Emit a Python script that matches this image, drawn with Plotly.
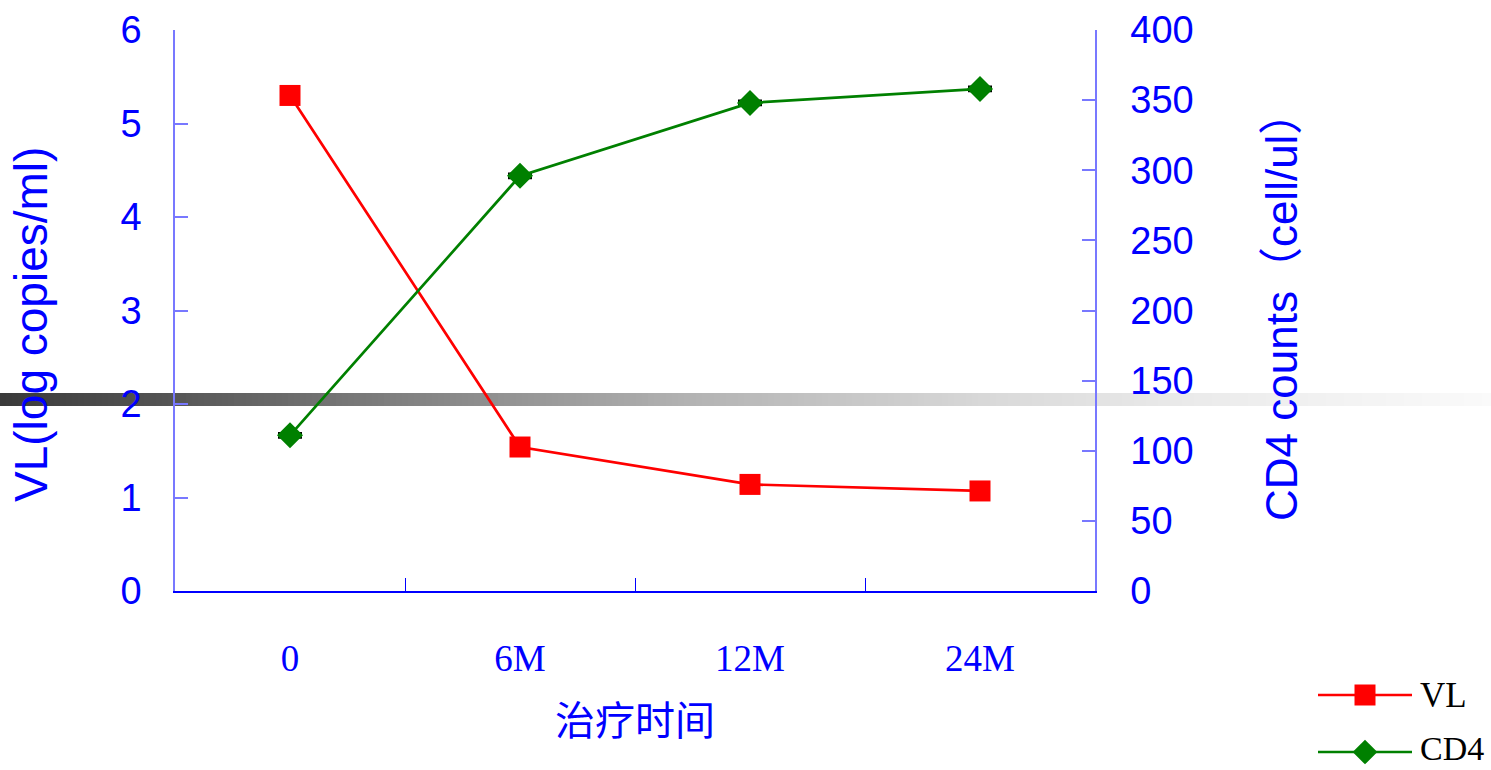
import plotly.graph_objects as go

# Treatment time points and measurements
months = ["0", "6M", "12M", "24M"]
vl_log = [5.30, 1.54, 1.14, 1.07]          # viral load, log copies/ml
cd4_counts = [111, 296, 348, 358]          # CD4 counts, cell/ul
cd4_err = [1.5, 1.5, 1.5, 1.5]

W, H = 1491, 770
BLUE = "#0000ff"
AXIS_BLUE = "#7878ff"
RED = "#ff0000"
GREEN = "#008000"


def px_x(p):
    return p / W


def px_y(p):
    return 1 - p / H


fig = go.Figure()

fig.add_trace(go.Scatter(
    x=months, y=vl_log, name="VL", mode="lines+markers",
    line=dict(color=RED, width=2.7),
    marker=dict(symbol="square", size=21, color=RED),
    xaxis="x", yaxis="y", showlegend=False,
))

fig.add_trace(go.Scatter(
    x=months, y=cd4_counts, name="CD4", mode="lines+markers",
    line=dict(color=GREEN, width=2.7),
    marker=dict(symbol="diamond", size=20, color=GREEN),
    error_y=dict(type="data", array=cd4_err, color="black", thickness=2.5, width=12),
    xaxis="x", yaxis="y2", showlegend=False,
))

# Legend drawn on a small auxiliary axis pair in the lower right corner
legend_items = [("VL", RED, "square", 21, 75), ("CD4", GREEN, "diamond", 19, 18)]
for label, col, sym, size, ypos in legend_items:
    fig.add_trace(go.Scatter(
        x=[0, 1], y=[ypos, ypos], mode="lines",
        line=dict(color=col, width=2.7),
        xaxis="x3", yaxis="y3", showlegend=False, hoverinfo="skip",
    ))
    fig.add_trace(go.Scatter(
        x=[0.5], y=[ypos], mode="markers",
        marker=dict(symbol=sym, size=size, color=col),
        xaxis="x3", yaxis="y3", showlegend=False, hoverinfo="skip",
    ))

# Horizontal shaded band, dark on the left fading to white on the right
stops = [(0, 58), (170, 85), (400, 128), (700, 180), (1000, 218), (1200, 235), (1491, 250)]


def gray_at(xp):
    for (x0, g0), (x1, g1) in zip(stops[:-1], stops[1:]):
        if x0 <= xp <= x1:
            return g0 + (g1 - g0) * (xp - x0) / (x1 - x0)
    return stops[-1][1]


shapes = []
step = 6
for xs in range(0, W, step):
    g = int(round(gray_at(xs + step / 2)))
    shapes.append(dict(
        type="rect", xref="paper", yref="paper", layer="below",
        x0=px_x(xs), x1=px_x(xs + step + 0.5), y0=px_y(406), y1=px_y(393),
        fillcolor=f"rgb({g},{g},{g})", line=dict(width=0),
    ))

annotations = [
    dict(text="VL(log copies/ml)", x=px_x(31), y=px_y(325), xref="paper", yref="paper",
         textangle=-90, showarrow=False, xanchor="center", yanchor="middle",
         font=dict(family="Liberation Sans, Noto Sans CJK SC", size=46, color=BLUE)),
    dict(text="CD4 counts（cell/ul）", x=px_x(1281), y=px_y(306), xref="paper", yref="paper",
         textangle=-90, showarrow=False, xanchor="center", yanchor="middle",
         font=dict(family="Liberation Sans, Noto Sans CJK SC", size=44, color=BLUE)),
    dict(text="治疗时间", x=px_x(635), y=px_y(718), xref="paper", yref="paper",
         showarrow=False, xanchor="center", yanchor="middle",
         font=dict(family="Noto Sans CJK SC", size=40, color=BLUE)),
    dict(text="VL", x=px_x(1418), y=px_y(695), xref="paper", yref="paper",
         showarrow=False, xanchor="left", yanchor="middle",
         font=dict(family="Liberation Serif", size=35, color="black")),
    dict(text="CD4", x=px_x(1418), y=px_y(769), xref="paper", yref="paper",
         showarrow=False, xanchor="left", yanchor="bottom",
         font=dict(family="Liberation Serif", size=34, color="black")),
]

xdom = [px_x(175), px_x(1095)]
ydom = [px_y(591), px_y(30)]

fig.update_layout(
    template="none",
    width=W, height=H,
    margin=dict(l=0, r=0, t=0, b=0, autoexpand=False),
    paper_bgcolor="white", plot_bgcolor="rgba(0,0,0,0)",
    showlegend=False,
    shapes=shapes,
    annotations=annotations,
    xaxis=dict(
        domain=xdom, type="category", categoryorder="array", categoryarray=months,
        range=[-0.5, 3.5], tickson="boundaries", automargin=False,
        showline=True, linecolor=BLUE, linewidth=2,
        ticks="inside", ticklen=13, tickcolor=BLUE, tickwidth=1,
        showgrid=False, zeroline=False, ticklabelstandoff=34,
        tickfont=dict(family="Liberation Serif", size=37, color=BLUE),
        anchor="y",
    ),
    yaxis=dict(
        domain=ydom, range=[0, 6], dtick=1, automargin=False,
        showline=True, linecolor=AXIS_BLUE, linewidth=1.5,
        ticks="inside", ticklen=13, tickcolor=AXIS_BLUE, tickwidth=1.5,
        showgrid=False, zeroline=False, ticklabelstandoff=24,
        tickfont=dict(family="Liberation Sans", size=38, color=BLUE),
        anchor="x",
    ),
    yaxis2=dict(
        domain=ydom, range=[0, 400], dtick=50, overlaying="y", side="right",
        automargin=False,
        showline=True, linecolor=AXIS_BLUE, linewidth=1.5,
        ticks="inside", ticklen=13, tickcolor=AXIS_BLUE, tickwidth=1.5,
        showgrid=False, zeroline=False, ticklabelstandoff=26,
        tickfont=dict(family="Liberation Sans", size=38, color=BLUE),
        anchor="x",
    ),
    xaxis3=dict(domain=[px_x(1318), px_x(1412)], range=[0, 1], visible=False,
                fixedrange=True, anchor="y3", automargin=False),
    yaxis3=dict(domain=[0, px_y(670)], range=[0, 100], visible=False,
                fixedrange=True, anchor="x3", automargin=False),
)

fig.write_html("out.html")
